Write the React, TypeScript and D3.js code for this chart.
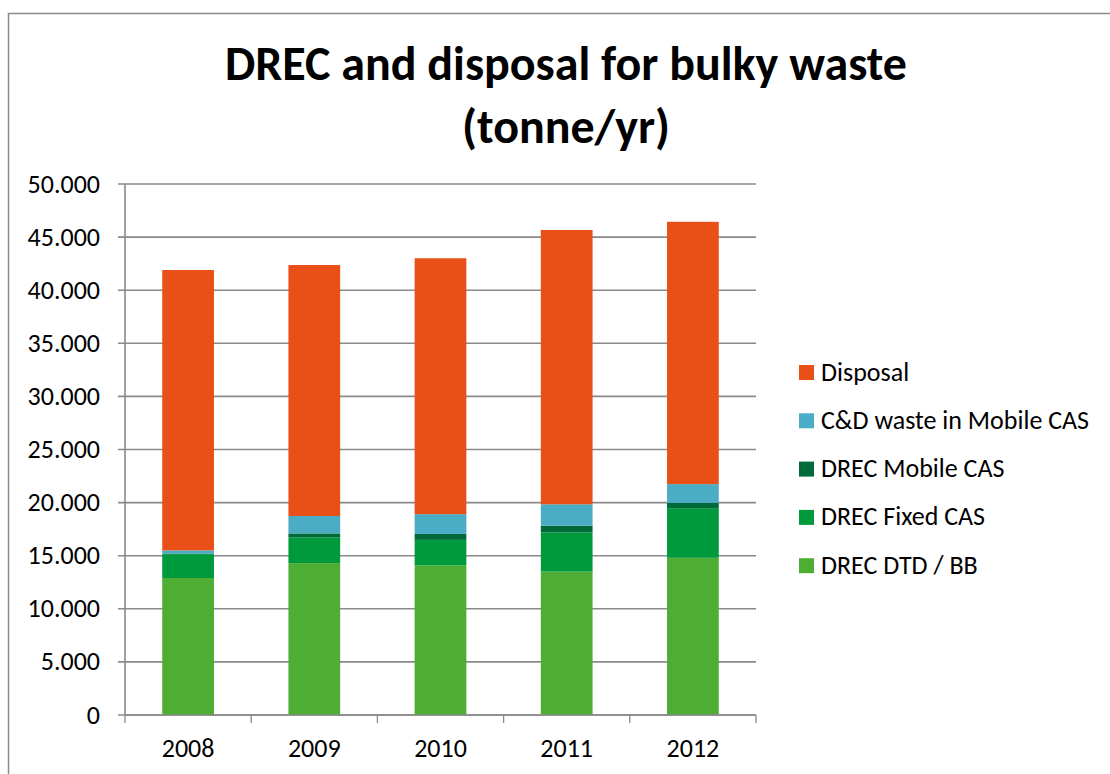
import React from "react";
import * as d3 from "d3";

const years = ["2008", "2009", "2010", "2011", "2012"];
const drecDtdBb = [12900, 14300, 14100, 13500, 14800];
const drecFixedCas = [2250, 2430, 2390, 3700, 4680];
const drecMobileCas = [50, 370, 560, 630, 500];
const cdWasteMobileCas = [300, 1640, 1860, 2010, 1760];
const disposal = [26400, 23630, 24100, 25830, 24700];
const yTicks = [0, 5000, 10000, 15000, 20000, 25000, 30000, 35000, 40000, 45000, 50000];

const seriesNames = ["DREC DTD / BB", "DREC Fixed CAS", "DREC Mobile CAS", "C&D waste in Mobile CAS", "Disposal"];
const seriesColors = ["#4DAE33", "#009A3D", "#006A3A", "#4BACC6", "#E95017"];
const seriesValues = [drecDtdBb, drecFixedCas, drecMobileCas, cdWasteMobileCas, disposal];

const W = 1110, H = 774;
const plot = { left: 125, right: 756, top: 184, bottom: 715 };
const FONT = "Calibri, Carlito, 'Open Sans', sans-serif";

export default function App() {
  const rows = years.map((y, i) => {
    const r: any = { year: y };
    seriesNames.forEach((n, k) => (r[n] = seriesValues[k][i]));
    return r;
  });
  const stacked = d3.stack<any>().keys(seriesNames)(rows);
  const x = d3.scaleBand().domain(years).range([plot.left, plot.right]).paddingInner(0.59).paddingOuter(0.295);
  const xb = d3.scaleBand().domain(years).range([plot.left, plot.right]);
  const y = d3.scaleLinear().domain([0, 50000]).range([plot.bottom, plot.top]);
  const fmt = (v: number) => (v === 0 ? "0" : d3.format(",")(v).replace(/,/g, "."));

  const legendOrder = [4, 3, 2, 1, 0];

  return (
    <svg width={W} height={H} style={{ position: "absolute", left: 0, top: 0, background: "#fff" }}>
      <rect x={8.5} y={13.5} width={W + 20} height={H + 20} fill="#fff" stroke="#8a8a8a" strokeWidth={1.5} />
      <text x={566} y={80} textAnchor="middle" fontFamily={FONT} fontWeight="bold" fontSize={48} fill="#000">
        DREC and disposal for bulky waste
      </text>
      <text x={566} y={143} textAnchor="middle" fontFamily={FONT} fontWeight="bold" fontSize={48} fill="#000">
        (tonne/yr)
      </text>
      {yTicks.map((t) => (
        <g key={t}>
          <line x1={plot.left - 7} x2={plot.right} y1={y(t)} y2={y(t)} stroke="#8a8a8a" strokeWidth={1.6} />
          <text x={100} y={y(t) + 8.5} textAnchor="end" fontFamily={FONT} fontSize={26} fill="#000">
            {fmt(t)}
          </text>
        </g>
      ))}
      {stacked.map((s, k) => (
        <g key={s.key} fill={seriesColors[k]}>
          {s.map((d, i) => (
            <rect key={i} x={x(years[i])!} width={x.bandwidth()} y={y(d[1])} height={y(d[0]) - y(d[1])} />
          ))}
        </g>
      ))}
      <line x1={plot.left} x2={plot.left} y1={plot.top} y2={plot.bottom} stroke="#8a8a8a" strokeWidth={1.6} />
      <line x1={plot.left} x2={plot.right} y1={plot.bottom} y2={plot.bottom} stroke="#8a8a8a" strokeWidth={1.6} />
      {years.map((yr) => (
        <line key={"t" + yr} x1={xb(yr)!} x2={xb(yr)!} y1={plot.bottom} y2={plot.bottom + 8} stroke="#8a8a8a" strokeWidth={1.3} />
      ))}
      <line x1={plot.right} x2={plot.right} y1={plot.bottom} y2={plot.bottom + 8} stroke="#8a8a8a" strokeWidth={1.3} />
      {years.map((yr) => (
        <text key={"l" + yr} x={xb(yr)! + xb.bandwidth() / 2} y={757} textAnchor="middle" fontFamily={FONT} fontSize={26} fill="#000">
          {yr}
        </text>
      ))}
      {legendOrder.map((k, j) => (
        <g key={"lg" + k} transform={`translate(799, ${372 + j * 48.3})`}>
          <rect x={0} y={-7} width={15} height={15} fill={seriesColors[k]} />
          <text x={22} y={8.5} fontFamily={FONT} fontSize={26} fill="#000">
            {seriesNames[k]}
          </text>
        </g>
      ))}
    </svg>
  );
}
